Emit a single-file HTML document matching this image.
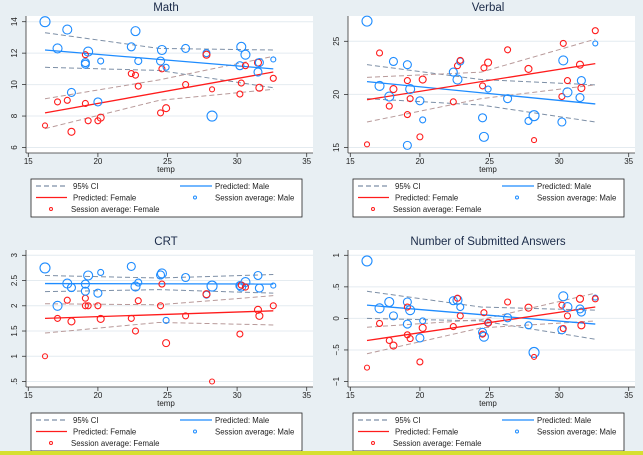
<!DOCTYPE html>
<html><head><meta charset="utf-8"><style>
body{margin:0;background:#e8eff3;}
svg{display:block;font-family:"Liberation Sans",sans-serif;}
</style></head><body>
<svg id="c" width="643" height="455"></svg>
<script>
const temps=[16.2,17.1,17.8,18.1,19.1,19.1,19.3,20.0,20.2,22.4,22.7,22.9,24.5,24.6,24.9,26.3,27.8,28.2,30.2,30.3,30.6,31.5,31.6,32.6];
const maleSize=[5,4.5,4.5,4,4,4,4.5,4,3,4,4.5,3.5,4,4.5,3,4,3.5,5,4,4.5,4.5,4,4,2.5];
const femaleSize=[2.5,3,3,3.5,3,3,3,3,3.5,3,3,3,3,3,3.5,3,3.5,2.5,3,3,3,3.5,3.5,3];
const xTicks=[15,20,25,30,35];
const ciX=[16.2,24.4,32.6];

const mathMale=[14.0,12.3,13.5,9.5,11.4,11.3,12.1,8.9,11.5,12.4,13.4,11.5,11.5,12.2,11.1,12.3,12.0,8.0,11.2,12.4,11.9,10.8,11.4,11.6];
const mathFemale=[7.4,8.9,9.0,7.0,11.9,8.8,7.7,7.7,7.9,10.7,10.6,9.9,8.2,11.0,8.5,10.0,11.9,9.7,9.4,10.1,11.2,11.4,9.8,10.4];
const mathPredM=[12.2,11.0],mathPredF=[8.2,10.8];
const mathCiMU=[13.3,12.3,12.2],mathCiML=[11.1,10.9,9.8],mathCiFU=[9.1,10.3,11.8],mathCiFL=[7.2,9.0,9.7];
const mathTicks=[6,8,10,12,14],mathTickLabels=["6","8","10","12","14"];

const verbMale=[26.9,20.8,19.8,23.1,22.8,15.2,20.5,19.4,17.6,22.1,21.4,23.1,17.8,16.0,20.5,19.6,17.5,18.0,17.4,23.2,20.2,19.7,21.3,24.8];
const verbFemale=[15.3,23.9,18.9,20.5,21.3,18.1,19.6,16.0,21.4,19.3,22.7,23.2,20.8,22.5,23.0,24.2,22.4,15.7,19.8,24.8,21.3,22.8,20.6,26.0];
const verbPredM=[21.2,19.1],verbPredF=[19.5,22.9];
const verbCiMU=[22.8,21.4,20.9],verbCiML=[19.6,19.0,17.4],verbCiFU=[21.6,22.1,25.2],verbCiFL=[17.4,19.6,20.9];
const verbTicks=[15,20,25],verbTickLabels=["15","20","25"];

const crtMale=[2.75,2.0,2.44,2.36,2.43,2.29,2.6,2.25,2.66,2.78,2.38,2.46,2.61,2.64,1.71,2.56,2.22,2.39,2.4,2.38,2.47,2.6,2.35,2.4];
const crtFemale=[1.0,1.75,2.11,1.69,2.15,2.0,2.0,2.0,1.74,1.75,1.5,2.1,2.0,2.43,1.26,1.8,2.23,0.5,1.44,2.41,2.37,1.92,1.8,2.0];
const crtPredM=[2.44,2.43],crtPredF=[1.75,1.9];
const crtCiMU=[2.6,2.55,2.62],crtCiML=[2.28,2.32,2.25],crtCiFU=[2.04,2.02,2.2],crtCiFL=[1.46,1.67,1.62];
const crtTicks=[0.5,1,1.5,2,2.5,3],crtTickLabels=[".5","1","1.5","2","2.5","3"];

const subMale=[0.91,0.16,0.26,0.04,0.26,-0.09,0.13,-0.31,-0.04,0.28,0.29,0.18,-0.22,-0.29,-0.07,0.01,-0.11,-0.54,-0.18,0.35,0.18,0.15,0.1,0.33];
const subFemale=[-0.78,-0.08,-0.35,-0.43,0.18,-0.26,-0.32,-0.69,-0.15,-0.13,0.32,0.04,-0.25,0.09,-0.07,0.26,0.17,-0.61,0.21,-0.16,0.04,0.31,-0.11,0.31];
const subPredM=[0.21,-0.09],subPredF=[-0.35,0.18];
const subCiMU=[0.43,0.18,0.13],subCiML=[0.0,-0.04,-0.33],subCiFU=[-0.14,-0.02,0.4],subCiFL=[-0.56,-0.15,-0.04];
const subTicks=[-1,-0.5,0,0.5,1],subTickLabels=["\u22121","\u2212.5","0",".5","1"];

const NS="http://www.w3.org/2000/svg";
const svg=document.getElementById('c');
function mk(tag,attrs,parent){const e=document.createElementNS(NS,tag);for(const k in attrs)e.setAttribute(k,attrs[k]);(parent||svg).appendChild(e);return e;}
const BLUE="#1e8cff",RED="#ff1c1c",CIM="#7d8fa6",CIF="#b89a9a";

function panel(ox,oy,title,male,female,pm,pf,cmu,cml,cfu,cfl,ticks,tlabels,topPix,name){
  const g=mk('g',{});
  
  
  const X=v=>ox+28.3+(v-15)*(278.4/20);
  const t0=ticks[0],t1=ticks[ticks.length-1];
  const Y=v=>oy+147.5-(v-t0)*((147.5-topPix)/(t1-t0));
  const bg=mk('rect',{x:ox+26,y:oy+16,width:287,height:137,fill:'#fff'},g);
  
  const tt=mk('text',{x:ox+166,y:oy+11,'text-anchor':'middle','font-size':11.5,fill:'#1a2a48'},g);tt.textContent=title;
  
  ticks.forEach((t,i)=>{
    mk('line',{x1:ox+26,x2:ox+313,y1:Y(t),y2:Y(t),stroke:'#e4ebf0','stroke-width':1},g);
    mk('line',{x1:ox+22,x2:ox+26,y1:Y(t),y2:Y(t),stroke:'#333','stroke-width':0.8},g);
    const l=mk('text',{x:ox+17,y:Y(t),'text-anchor':'middle','font-size':8,fill:'#222',transform:`rotate(-90 ${ox+17} ${Y(t)})`},g);
    l.textContent=tlabels[i];
    
  });
  mk('line',{x1:ox+26,x2:ox+26,y1:oy+16,y2:oy+153,stroke:'#333','stroke-width':0.8},g);
  mk('line',{x1:ox+26,x2:ox+313,y1:oy+153,y2:oy+153,stroke:'#333','stroke-width':0.8},g);
  xTicks.forEach(t=>{
    mk('line',{x1:X(t),x2:X(t),y1:oy+153,y2:oy+157,stroke:'#333','stroke-width':0.8},g);
    const l=mk('text',{x:X(t),y:oy+164,'text-anchor':'middle','font-size':8,fill:'#222'},g);l.textContent=t;
    
  });
  const xt=mk('text',{x:ox+166,y:oy+172,'text-anchor':'middle','font-size':8,fill:'#222'},g);xt.textContent='temp';
  
  const ci=(arr,col,nm)=>{const p=mk('polyline',{points:ciX.map((x,i)=>X(x)+','+Y(arr[i])).join(' '),fill:'none',stroke:col,'stroke-width':1,'stroke-dasharray':'5,3'},g);
    };
  ci(cmu,CIM,'ci-male-upper');ci(cml,CIM,'ci-male-lower');ci(cfu,CIF,'ci-female-upper');ci(cfl,CIF,'ci-female-lower');
  const pl=(arr,col,nm)=>{const p=mk('line',{x1:X(temps[0]),y1:Y(arr[0]),x2:X(temps[temps.length-1]),y2:Y(arr[1]),stroke:col,'stroke-width':1.3},g);
    };
  pl(pm,BLUE,'predicted-male');pl(pf,RED,'predicted-female');
  temps.forEach((t,i)=>{
    const c=mk('circle',{cx:X(t),cy:Y(male[i]),r:maleSize[i],fill:'none',stroke:BLUE,'stroke-width':1.1},g);
    
    const d=mk('circle',{cx:X(t),cy:Y(female[i]),r:femaleSize[i],fill:'none',stroke:RED,'stroke-width':1.1},g);
    
  });
  const ly=oy+179,lx=ox+31;
  const lg=mk('g',{},g);
  mk('rect',{x:lx,y:ly,width:271,height:38,fill:'#fff',stroke:'#222','stroke-width':0.8},lg);
  const r=[ly+10,ly+21.5,ly+33];
  mk('line',{x1:lx+5,x2:lx+36,y1:r[0]-3,y2:r[0]-3,stroke:CIM,'stroke-width':1.2,'stroke-dasharray':'5,3'},lg);
  mk('line',{x1:lx+5,x2:lx+36,y1:r[1]-3,y2:r[1]-3,stroke:RED,'stroke-width':1.3},lg);
  mk('circle',{cx:lx+20,cy:r[2]-3,r:1.5,fill:'none',stroke:RED,'stroke-width':1},lg);
  mk('line',{x1:lx+149,x2:lx+181,y1:r[0]-3,y2:r[0]-3,stroke:BLUE,'stroke-width':1.3},lg);
  mk('circle',{cx:lx+164,cy:r[1]-3,r:1.5,fill:'none',stroke:BLUE,'stroke-width':1},lg);
  [[lx+42,r[0],'95% CI'],[lx+42,r[1],'Predicted: Female'],[lx+40,r[2],'Session average: Female'],[lx+184,r[0],'Predicted: Male'],[lx+184,r[1],'Session average: Male']].forEach(a=>{
    const t=mk('text',{x:a[0],y:a[1],'font-size':7.8,fill:'#222'},lg);t.textContent=a[2];
    
  });
}
panel(0,0,'Math',mathMale,mathFemale,mathPredM,mathPredF,mathCiMU,mathCiML,mathCiFU,mathCiFL,mathTicks,mathTickLabels,21.7,'math');
panel(322,0,'Verbal',verbMale,verbFemale,verbPredM,verbPredF,verbCiMU,verbCiML,verbCiFU,verbCiFL,verbTicks,verbTickLabels,41.3,'verbal');
panel(0,234,'CRT',crtMale,crtFemale,crtPredM,crtPredF,crtCiMU,crtCiML,crtCiFU,crtCiFL,crtTicks,crtTickLabels,21.3,'crt');
panel(322,234,'Number of Submitted Answers',subMale,subFemale,subPredM,subPredF,subCiMU,subCiML,subCiFU,subCiFL,subTicks,subTickLabels,21.3,'submitted');
const yb=mk('rect',{x:0,y:451,width:643,height:4,fill:'#d6e030'});

</script>
</body></html>
